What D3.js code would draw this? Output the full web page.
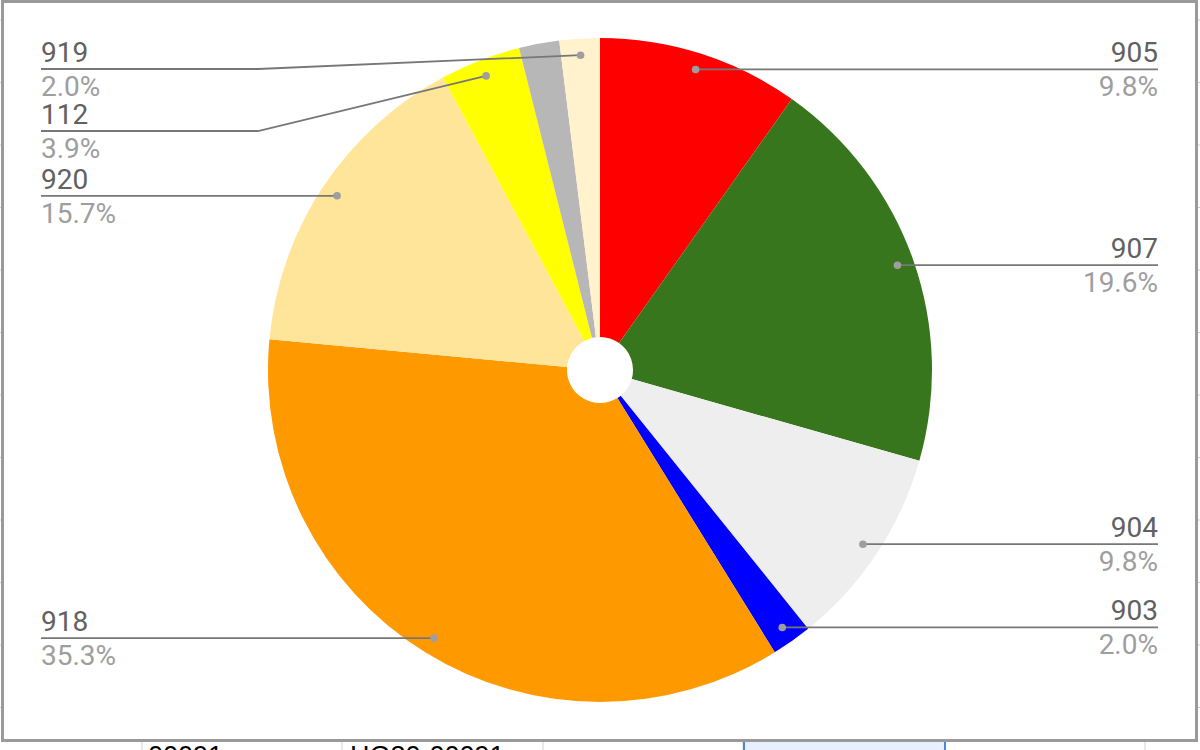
<!DOCTYPE html>
<html>
<head>
<meta charset="utf-8">
<script src="https://cdn.jsdelivr.net/npm/d3@7"></script>
<style>
  body { margin: 0; background: #fff; }
  svg { display: block; font-family: Roboto, "Noto Sans", Arial, sans-serif; }
</style>
</head>
<body>
<div id="chart"></div>
<script>
// slice data, clockwise from 12 o'clock
var categories = ["905", "907", "904", "903", "918", "920", "112", "", "919"];
var counts     = [5, 10, 5, 1, 18, 8, 2, 1, 1];
var colors     = ["#ff0000", "#38761d", "#eeeeee", "#0000ff", "#ff9900", "#ffe599", "#ffff00", "#b7b7b7", "#fff2cc"];
// label line heights (y of the leader line) for the labelled slices
var labelY     = [70, 266, 545, 628, 637, 196, 131, null, 69];

// sheet cells peeking out under the chart
var cellTexts  = ["00091", "HG30-00091"];

var W = 1200, H = 750;
var cx = 600, cy = 370, R = 332, r0 = 33;

var svg = d3.select("#chart").append("svg")
    .attr("width", W)
    .attr("height", H);

// background sheet grid under/around the chart
var cols = [142, 342, 543, 743, 945, 1145];
svg.selectAll(".cellline")
  .data(cols)
  .enter().append("line")
    .attr("x1", function(d){ return d; }).attr("x2", function(d){ return d; })
    .attr("y1", 742).attr("y2", 750)
    .attr("stroke", "#e0e0e0").attr("stroke-width", 1.5);
svg.append("rect")
    .attr("x", 744).attr("y", 742).attr("width", 201).attr("height", 8)
    .attr("fill", "#e8f0fe");
svg.append("line").attr("x1", 744).attr("x2", 744).attr("y1", 742).attr("y2", 750)
    .attr("stroke", "#4a86e8").attr("stroke-width", 2);
svg.append("line").attr("x1", 945).attr("x2", 945).attr("y1", 742).attr("y2", 750)
    .attr("stroke", "#4a86e8").attr("stroke-width", 2);
svg.selectAll(".celltext")
  .data(cellTexts)
  .enter().append("text")
    .attr("x", function(d, i){ return i == 0 ? 148 : 350; })
    .attr("y", 765)
    .style("font-family", "Arial, 'Liberation Sans', sans-serif")
    .style("font-size", "27px")
    .style("fill", "#000")
    .text(function(d){ return d; });
// left / right gridline ticks
var rows = d3.range(20, 740, 62.5);
svg.selectAll(".tickL")
  .data(rows)
  .enter().append("line")
    .attr("x1", 0).attr("x2", 3)
    .attr("y1", function(d){ return d; }).attr("y2", function(d){ return d; })
    .attr("stroke", "#d0d0d0");
svg.selectAll(".tickR")
  .data(rows)
  .enter().append("line")
    .attr("x1", 1197).attr("x2", 1200)
    .attr("y1", function(d){ return d; }).attr("y2", function(d){ return d; })
    .attr("stroke", "#d0d0d0");

// chart frame
svg.append("rect")
    .attr("x", 2.5).attr("y", 1.5)
    .attr("width", 1194).attr("height", 739)
    .attr("fill", "#fff")
    .attr("stroke", "#9a9a9a")
    .attr("stroke-width", 3);

var data = categories.map(function(c, i){
  return { name: c, value: counts[i], color: colors[i], ly: labelY[i] };
});
var total = d3.sum(counts);

var pie = d3.pie()
    .sort(null)
    .value(function(d){ return d.value; });

var arc = d3.arc()
    .innerRadius(r0)
    .outerRadius(R);

var arcs = pie(data);

var g = svg.append("g")
    .attr("transform", "translate(" + cx + "," + cy + ")");

g.selectAll(".slice")
  .data(arcs)
  .enter().append("path")
    .attr("class", "slice")
    .attr("d", arc)
    .attr("fill", function(d){ return d.data.color; });

// labels
var labelled = arcs.filter(function(d){ return d.data.name !== ""; });
var lineR = R * 0.95;

labelled.forEach(function(d){
  var a = (d.startAngle + d.endAngle) / 2;
  var px = cx + lineR * Math.sin(a);
  var py = cy - lineR * Math.cos(a);
  var right = Math.sin(a) > 0;
  var ly = d.data.ly;
  var xEnd = right ? 1158 : 41;
  var pts;
  if (Math.abs(ly - py) < 1.5) {
    pts = [[px, py], [xEnd, py]];
    ly = py;
  } else {
    var bend = right ? 1000 : 258;
    pts = [[px, py], [bend, ly], [xEnd, ly]];
  }
  svg.append("path")
      .attr("d", d3.line()(pts))
      .attr("fill", "none")
      .attr("stroke", "#777")
      .attr("stroke-width", 1.8);
  svg.append("circle")
      .attr("cx", px).attr("cy", py).attr("r", 3.8)
      .attr("fill", "#9e9e9e");
  svg.append("text")
      .attr("x", xEnd).attr("y", ly - 7)
      .attr("text-anchor", right ? "end" : "start")
      .style("font-size", "28px")
      .style("fill", "#616161")
      .text(d.data.name);
  svg.append("text")
      .attr("x", xEnd).attr("y", ly + 27)
      .attr("text-anchor", right ? "end" : "start")
      .style("font-size", "28px")
      .style("fill", "#9e9e9e")
      .text((d.data.value / total * 100).toFixed(1) + "%");
});
</script>
</body>
</html>
